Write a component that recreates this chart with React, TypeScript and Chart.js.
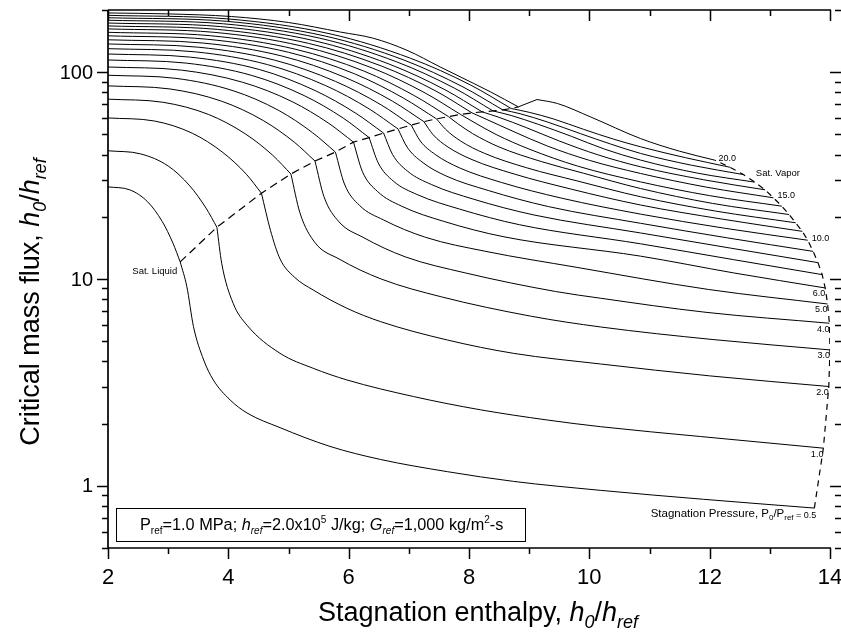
import React, { useEffect, useRef } from 'react';
import { Chart, registerables } from 'chart.js';

Chart.register(...registerables);

const FONT = '"Liberation Sans", Arial, Helvetica, sans-serif';

// ---- axes ----
const xMajor = [2, 4, 6, 8, 10, 12, 14];
const xMinor = [3, 5, 7, 9, 11, 13];
const yMajor = [1, 10, 100];
const yMinor = [0.5, 0.6, 0.7, 0.8, 0.9, 2, 3, 4, 5, 6, 7, 8, 9, 20, 30, 40, 50, 60, 70, 80, 90, 200];

// ---- stagnation pressure ratios P0/Pref (one curve each) ----
const pressureRatios = ['0.5', '1.0', '2.0', '3.0', '4.0', '5.0', '6.0', '7.0', '8.0', '9.0', '10.0',
  '11.0', '12.0', '13.0', '14.0', '15.0', '16.0', '17.0', '18.0', '19.0', '20.0'];
const labeledCurves = ['1.0', '2.0', '3.0', '4.0', '5.0', '6.0', '10.0', '15.0', '20.0'];

// ---- subcooled branch [h0/href, G/Gref] (ends at saturated liquid) ----
const sub_05 = [[2, 27.9], [2.36, 27.0], [2.66, 23.6], [2.90, 19.0], [3.08, 14.9], [3.20, 12.1]];
const sub_10 = [[2, 41.7], [2.54, 40.3], [3.00, 35.2], [3.36, 28.2], [3.63, 22.0], [3.81, 17.8]];
const sub_20 = [[2, 60.1], [2.77, 58.1], [3.40, 50.7], [3.91, 40.9], [4.30, 32.1], [4.55, 26.0]];
const sub_30 = [[2, 74.1], [2.91, 71.6], [3.67, 62.5], [4.28, 50.4], [4.74, 39.6], [5.04, 32.2]];
const sub_40 = [[2, 85.9], [3.03, 83.0], [3.89, 72.4], [4.58, 58.4], [5.10, 45.8], [5.44, 37.2]];
const sub_50 = [[2, 96.7], [3.13, 93.4], [4.08, 81.4], [4.84, 65.3], [5.40, 51.0], [5.78, 41.1]];
const sub_60 = [[2, 106], [3.22, 102.4], [4.24, 89.4], [5.06, 72.1], [5.67, 56.6], [6.08, 45.9]];
const sub_70 = [[2, 114.6], [3.30, 110.7], [4.39, 96.5], [5.26, 77.1], [5.91, 60.0], [6.34, 48.3]];
const sub_80 = [[2, 122.5], [3.37, 118.3], [4.52, 103.0], [5.44, 81.6], [6.12, 63.3], [6.58, 50.8]];
const sub_90 = [[2, 130], [3.45, 125.5], [4.65, 108.9], [5.62, 86.1], [6.34, 66.5], [6.82, 53.2]];
const sub_100 = [[2, 137], [3.51, 132.1], [4.77, 114.4], [5.78, 90.3], [6.54, 69.5], [7.04, 55.5]];
const sub_110 = [[2, 143.5], [3.58, 138.4], [4.89, 119.8], [5.94, 94.4], [6.73, 72.4], [7.25, 57.7]];
const sub_120 = [[2, 150], [3.64, 144.5], [5.00, 124.9], [6.10, 98.2], [6.91, 75.0], [7.46, 59.5]];
const sub_130 = [[2, 156], [3.70, 150.2], [5.11, 129.3], [6.25, 101.4], [7.09, 77.1], [7.66, 61.0]];
const sub_140 = [[2, 162], [3.76, 156.0], [5.22, 133.9], [6.40, 104.6], [7.27, 79.4], [7.86, 62.5]];
const sub_150 = [[2, 167.5], [3.82, 161.1], [5.33, 138.0], [6.54, 107.3], [7.45, 81.1], [8.05, 63.6]];
const sub_160 = [[2, 173], [3.87, 166.3], [5.42, 142.2], [6.67, 109.6], [7.60, 82.3], [8.22, 64.3]];
const sub_170 = [[2, 178.5], [3.92, 171.5], [5.52, 146.1], [6.80, 112.2], [7.76, 83.7], [8.40, 65.0]];
const sub_180 = [[2, 183.5], [3.97, 176.3], [5.61, 149.6], [6.92, 114.5], [7.90, 84.9], [8.56, 65.8]];
const sub_190 = [[2, 188.5], [4.01, 180.9], [5.69, 153.4], [7.03, 116.8], [8.03, 86.6], [8.70, 66.8]];
const sub_200 = [[2, 193.5], [3.0, 191.5], [4.05, 186], [5.0, 174], [5.86, 156.5], [6.41, 146], [6.97, 127.7], [7.52, 106.1], [8.08, 88.2], [8.36, 80.3], [8.82, 68.0]];

// ---- two-phase branch (saturated liquid -> saturated vapor) ----
const two_05 = [[3.20, 12.1], [3.31, 9.2], [3.42, 5.9], [3.59, 4.06], [3.75, 3.25], [4.03, 2.6], [4.31, 2.25], [4.86, 1.91], [5.69, 1.55], [6.53, 1.34], [7.64, 1.17], [8.74, 1.05], [10.19, 0.95], [11.9, 0.86], [13.74, 0.78]];
const two_10 = [[3.81, 17.8], [3.89, 11.9], [4.08, 7.63], [4.31, 5.98], [4.86, 4.37], [5.41, 3.70], [5.97, 3.25], [7.08, 2.70], [8.19, 2.33], [9.30, 2.08], [10.19, 1.93], [11.85, 1.73], [13.89, 1.52]];
const two_20 = [[4.55, 26.0], [4.70, 17.2], [4.86, 12.5], [5.10, 10.2], [5.41, 8.85], [5.97, 7.22], [6.53, 6.22], [7.64, 5.07], [8.74, 4.37], [10.19, 3.88], [12.0, 3.4], [13.98, 3.02]];
const two_30 = [[5.04, 32.2], [5.19, 20.9], [5.44, 15.0], [5.84, 12.5], [6.54, 10.0], [7.54, 8.2], [9.04, 6.6], [10.19, 5.86], [12.04, 5.1], [14.0, 4.54]];
const two_40 = [[5.44, 37.2], [5.59, 25.0], [5.84, 18.9], [6.24, 15.9], [6.94, 12.8], [7.94, 10.7], [9.44, 8.7], [10.19, 8.07], [11.94, 6.9], [13.99, 6.11]];
const two_50 = [[5.78, 41.1], [5.93, 28.8], [6.18, 22.7], [6.58, 19.3], [7.28, 15.9], [8.28, 13.6], [9.78, 11.4], [11.98, 8.9], [13.96, 7.57]];
const two_60 = [[6.08, 45.9], [6.23, 33.0], [6.48, 26.5], [6.88, 22.5], [7.58, 19.0], [8.58, 16.0], [10.85, 12.9], [12.40, 10.7], [13.92, 9.05]];
const two_70 = [[6.34, 48.3], [6.49, 36.5], [6.74, 29.8], [7.14, 25.6], [7.84, 21.8], [8.84, 18.3], [10.85, 14.8], [12.40, 12.4], [13.87, 10.5]];
const two_80 = [[6.58, 50.8], [6.73, 40.0], [6.98, 33.2], [7.38, 28.6], [8.08, 24.3], [9.08, 20.4], [10.85, 16.7], [12.35, 14.1], [13.80, 12.0]];
const two_90 = [[6.82, 53.2], [6.97, 43.5], [7.22, 36.8], [7.62, 31.5], [8.32, 26.8], [9.32, 22.4], [10.85, 18.6], [12.30, 15.8], [13.72, 13.6]];
const two_100 = [[7.04, 55.5], [7.19, 46.5], [7.44, 40.0], [7.84, 34.5], [8.54, 29.3], [9.54, 24.6], [10.85, 20.6], [12.25, 17.6], [13.63, 15.4]];
const two_110 = [[7.25, 57.7], [7.40, 50.0], [7.65, 43.5], [8.05, 37.8], [8.75, 32.2], [9.70, 27.2], [10.85, 22.8], [12.20, 19.5], [13.54, 17.0]];
const two_120 = [[7.46, 59.5], [7.61, 53.0], [7.86, 46.5], [8.26, 40.5], [8.96, 34.5], [9.80, 29.8], [10.85, 25.0], [12.10, 21.3], [13.43, 18.7]];
const two_130 = [[7.66, 61.0], [7.81, 56.5], [8.06, 50.5], [8.50, 43.5], [9.20, 37.0], [9.90, 32.5], [10.85, 27.4], [12.05, 23.2], [13.32, 20.5]];
const two_140 = [[7.86, 62.5], [8.05, 58.0], [8.45, 50.0], [9.00, 42.5], [9.80, 35.2], [10.85, 29.5], [12.00, 25.3], [13.20, 22.5]];
const two_150 = [[8.05, 63.6], [8.30, 59.0], [8.75, 51.5], [9.30, 44.0], [10.00, 37.5], [10.85, 32.4], [11.95, 27.8], [13.06, 24.7]];
const two_160 = [[8.22, 64.3], [8.50, 60.5], [8.95, 54.0], [9.50, 46.5], [10.15, 39.8], [10.85, 34.9], [11.90, 30.2], [12.92, 27.0]];
const two_170 = [[8.40, 65.0], [8.70, 61.8], [9.15, 56.0], [9.70, 49.0], [10.25, 42.5], [10.85, 37.6], [11.80, 32.5], [12.75, 29.4]];
const two_180 = [[8.56, 65.8], [8.85, 63.0], [9.30, 57.5], [9.85, 50.5], [10.35, 45.0], [10.85, 40.5], [11.70, 35.5], [12.56, 32.0]];
const two_190 = [[8.70, 66.8], [9.00, 64.0], [9.40, 59.5], [9.90, 53.0], [10.40, 47.5], [10.85, 43.6], [11.60, 38.6], [12.34, 34.7]];
const rise_200 = [[8.82, 68.0], [9.13, 73.8]];
const two_200 = [[9.13, 73.8], [9.47, 70.6], [10.02, 60.8], [10.85, 47.8], [11.5, 41.5], [12.08, 37.6]];

const subcooled = [sub_05, sub_10, sub_20, sub_30, sub_40, sub_50, sub_60, sub_70, sub_80, sub_90, sub_100,
  sub_110, sub_120, sub_130, sub_140, sub_150, sub_160, sub_170, sub_180, sub_190, sub_200];
const twoPhase = [two_05, two_10, two_20, two_30, two_40, two_50, two_60, two_70, two_80, two_90, two_100,
  two_110, two_120, two_130, two_140, two_150, two_160, two_170, two_180, two_190, two_200];

type Run = { t: string; size: number; italic?: boolean; dy?: number };

function drawRuns(ctx: CanvasRenderingContext2D, x: number, y: number, runs: Run[], align: 'left' | 'right' | 'center') {
  const widths = runs.map((r) => {
    ctx.font = `${r.italic ? 'italic ' : ''}${r.size}px ${FONT}`;
    return ctx.measureText(r.t).width;
  });
  const total = widths.reduce((a, b) => a + b, 0);
  let cx = align === 'left' ? x : align === 'right' ? x - total : x - total / 2;
  ctx.textAlign = 'left';
  ctx.textBaseline = 'alphabetic';
  runs.forEach((r, i) => {
    ctx.font = `${r.italic ? 'italic ' : ''}${r.size}px ${FONT}`;
    ctx.fillText(r.t, cx, y + (r.dy || 0));
    cx += widths[i];
  });
}

const last = (a: number[][]) => a[a.length - 1];

const framePlugin = {
  id: 'originFrame',
  afterDraw(chart: any) {
    const { ctx, chartArea: ca, scales } = chart;
    const xs = scales.x;
    const ys = scales.y;
    ctx.save();
    ctx.strokeStyle = '#000';
    ctx.fillStyle = '#000';
    ctx.lineWidth = 1.7;
    ctx.beginPath();
    ctx.moveTo(ca.left, ca.top);
    ctx.lineTo(ca.left, ca.bottom);
    ctx.lineTo(ca.right + 1, ca.bottom);
    ctx.moveTo(ca.left, ca.top);
    ctx.lineTo(ca.right + 1, ca.top);
    ctx.stroke();

    ctx.lineWidth = 1.5;
    ctx.beginPath();
    const xTick = (v: number, len: number) => {
      const px = Math.round(xs.getPixelForValue(v)) + 0.5;
      ctx.moveTo(px, ca.bottom);
      ctx.lineTo(px, ca.bottom + len);
      ctx.moveTo(px, ca.top);
      ctx.lineTo(px, ca.top + len);
    };
    xMajor.forEach((v) => xTick(v, 11));
    xMinor.forEach((v) => xTick(v, 6));
    const yTick = (v: number, len: number) => {
      const py = Math.round(ys.getPixelForValue(v)) + 0.5;
      ctx.moveTo(ca.left - len, py);
      ctx.lineTo(ca.left, py);
      ctx.moveTo(ca.right + 11 - len, py);
      ctx.lineTo(ca.right + 11, py);
    };
    yMajor.forEach((v) => yTick(v, 11));
    yMinor.forEach((v) => yTick(v, 6));
    ctx.stroke();

    // tick labels
    ctx.font = `22px ${FONT}`;
    ctx.textAlign = 'center';
    ctx.textBaseline = 'middle';
    xMajor.forEach((v) => ctx.fillText(String(v), xs.getPixelForValue(v), ca.bottom + 30));
    ctx.font = `20px ${FONT}`;
    ctx.textAlign = 'right';
    yMajor.forEach((v) => ctx.fillText(String(v), ca.left - 15, ys.getPixelForValue(v) + 1));

    // axis titles
    const title = (main: string): Run[] => [
      { t: main, size: 27 },
      { t: 'h', size: 27, italic: true },
      { t: '0', size: 18, italic: true, dy: 7 },
      { t: '/', size: 27 },
      { t: 'h', size: 27, italic: true },
      { t: 'ref', size: 18, italic: true, dy: 7 },
    ];
    drawRuns(ctx, 478, 621, title('Stagnation enthalpy, '), 'center');
    ctx.save();
    ctx.translate(39, 302);
    ctx.rotate(-Math.PI / 2);
    drawRuns(ctx, 0, 0, title('Critical mass flux, '), 'center');
    ctx.restore();

    // curve labels
    pressureRatios.forEach((p, i) => {
      if (!labeledCurves.includes(p)) return;
      const e = last(twoPhase[i]);
      const px = xs.getPixelForValue(e[0]);
      const py = ys.getPixelForValue(e[1]);
      ctx.font = `9px ${FONT}`;
      ctx.textBaseline = 'middle';
      if (parseFloat(p) >= 10) {
        ctx.textAlign = 'left';
        ctx.fillText(p, px + 4, py - 2);
      } else {
        ctx.textAlign = 'right';
        ctx.fillText(p, px, py + 6);
      }
    });
    {
      const e = last(twoPhase[0]);
      const px = xs.getPixelForValue(e[0]);
      const py = ys.getPixelForValue(e[1]);
      drawRuns(ctx, px + 2, py + 9, [
        { t: 'Stagnation Pressure, P', size: 11.5 },
        { t: '0', size: 8, dy: 3 },
        { t: '/P', size: 11.5 },
        { t: 'ref', size: 8, dy: 3 },
        { t: ' = 0.5', size: 9, dy: 1 },
      ], 'right');
    }
    {
      const s = last(subcooled[0]);
      const px = xs.getPixelForValue(s[0]);
      const py = ys.getPixelForValue(s[1]);
      drawRuns(ctx, px - 3, py + 12, [{ t: 'Sat. Liquid', size: 9.5 }], 'right');
    }
    {
      const e = last(twoPhase[17]);
      const px = xs.getPixelForValue(e[0]);
      const py = ys.getPixelForValue(e[1]);
      drawRuns(ctx, px + 1, py - 6, [{ t: 'Sat. Vapor', size: 9.5 }], 'left');
    }

    // reference-condition box
    ctx.lineWidth = 1;
    ctx.strokeRect(116.5, 508.5, 409, 33);
    drawRuns(ctx, 140, 530, [
      { t: 'P', size: 16.3 },
      { t: 'ref', size: 10, dy: 4 },
      { t: '=1.0 MPa; ', size: 16.3 },
      { t: 'h', size: 16.3, italic: true },
      { t: 'ref', size: 10, italic: true, dy: 4 },
      { t: '=2.0x10', size: 16.3 },
      { t: '5', size: 10, dy: -7 },
      { t: ' J/kg; ', size: 16.3 },
      { t: 'G', size: 16.3, italic: true },
      { t: 'ref', size: 10, italic: true, dy: 4 },
      { t: '=1,000 kg/m', size: 16.3 },
      { t: '2', size: 10, dy: -7 },
      { t: '-s', size: 16.3 },
    ], 'left');
    ctx.restore();
  },
};

export default function App() {
  const ref = useRef<HTMLCanvasElement | null>(null);
  useEffect(() => {
    if (!ref.current) return;
    const toXY = (a: number[][]) => a.map(([x, y]) => ({ x, y }));
    const line = (arr: number[][], label: string, extra: any = {}) => ({
      label,
      data: toXY(arr),
      showLine: true,
      borderColor: '#000',
      backgroundColor: '#000',
      borderWidth: 1,
      pointRadius: 0,
      fill: false,
      cubicInterpolationMode: 'monotone',
      ...extra,
    });
    const datasets: any[] = [];
    pressureRatios.forEach((p, i) => {
      datasets.push(line(subcooled[i], `P0/Pref=${p} subcooled`));
      datasets.push(line(twoPhase[i], `P0/Pref=${p} two-phase`));
    });
    datasets.push(line(rise_200, 'P0/Pref=20.0 rise', { cubicInterpolationMode: 'default', tension: 0 }));
    datasets.push(line(subcooled.map(last), 'Sat. Liquid', { cubicInterpolationMode: 'default', tension: 0, borderDash: [8, 5], borderWidth: 1.2 }));
    datasets.push(line(twoPhase.map(last), 'Sat. Vapor', { cubicInterpolationMode: 'default', tension: 0, borderDash: [6, 5], borderWidth: 1.2 }));

    const chart = new Chart(ref.current, {
      type: 'scatter',
      data: { datasets },
      options: {
        animation: false,
        responsive: false,
        devicePixelRatio: 1,
        events: [],
        layout: { padding: { left: 108, top: 10, right: 11, bottom: 89 } },
        plugins: { legend: { display: false }, tooltip: { enabled: false } },
        scales: {
          x: { type: 'linear', min: 2, max: 14, display: false },
          y: { type: 'logarithmic', min: 0.5, max: 200, display: false },
        },
      },
      plugins: [framePlugin],
    });
    return () => chart.destroy();
  }, []);
  return (
    <div style={{ position: 'absolute', left: 0, top: 0, width: 841, height: 637, background: '#fff' }}>
      <canvas ref={ref} width={841} height={637} style={{ width: 841, height: 637, display: 'block' }} />
    </div>
  );
}
